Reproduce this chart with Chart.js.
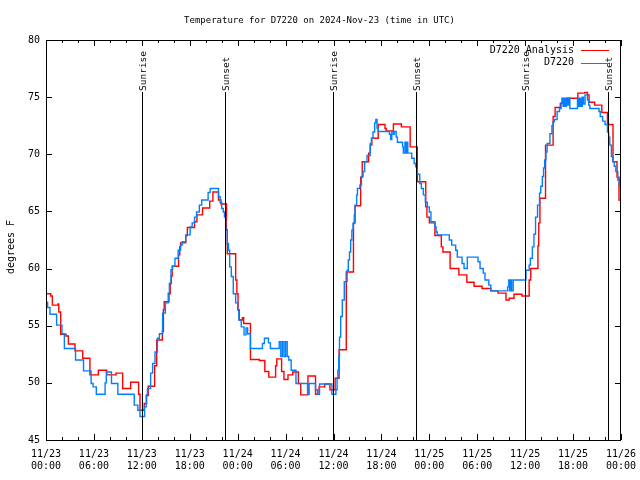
<!DOCTYPE html>
<html>
<head>
<meta charset="utf-8">
<script src="https://cdn.jsdelivr.net/npm/chart.js@4.4.1/dist/chart.umd.min.js"></script>
<style>
  html, body { margin: 0; padding: 0; background: #fff; }
  #wrap { width: 640px; height: 480px; }
</style>
</head>
<body>
<div id="wrap"><canvas id="tempChart" width="640" height="480"></canvas></div>
<script>
const MONO = "'DejaVu Sans Mono', 'Liberation Mono', monospace";

const chartTitle = "Temperature for D7220 on 2024-Nov-23 (time in UTC)";
const yTitle = "degrees F";
const seriesNames = ["D7220 Analysis", "D7220"];

// x = hours after 11/23 00:00 UTC
const xTickLabels = [
  ["11/23", "00:00"], ["11/23", "06:00"], ["11/23", "12:00"], ["11/23", "18:00"],
  ["11/24", "00:00"], ["11/24", "06:00"], ["11/24", "12:00"], ["11/24", "18:00"],
  ["11/25", "00:00"], ["11/25", "06:00"], ["11/25", "12:00"], ["11/25", "18:00"],
  ["11/26", "00:00"]
];

const sunEvents = ["Sunrise", "Sunset", "Sunrise", "Sunset", "Sunrise", "Sunset"];
const sunHours = [11.96, 22.43, 35.93, 46.38, 59.92, 70.39];

// analysis (red)
const analysisHours = [0, 0.6, 0.8, 1.5, 1.6, 1.84, 2.5, 2.8, 3.63, 4.6, 5.5, 6.55, 7.6, 8.77, 9.6, 10.6, 11.6, 11.77,
  12.3, 12.6, 12.8, 13.6, 13.86, 14.57, 14.7, 14.8, 15.4, 15.55, 15.7, 15.8, 16.6, 16.75, 16.85, 17.5, 17.7, 18.6, 18.9,
  19.6, 20.5, 20.9, 21.6, 21.9, 22.6, 22.7, 23.75, 23.9, 24.05, 24.2, 24.6, 24.75, 25.6, 26.7, 27.4, 27.9, 28.75, 28.9,
  29.5, 29.8, 30.3, 30.9, 31.6, 31.9, 32.8, 33.75, 34.2, 34.9, 35.55, 36.2, 36.7, 37.6, 38.5, 38.7, 39.4, 39.6, 40.4,
  40.6, 40.8, 41.6, 42.45, 42.6, 43.5, 44.5, 45.6, 46.5, 47.55, 47.7, 48.0, 48.7, 49.5, 49.7, 50.6, 51.7, 52.7, 53.6,
  54.6, 55.7, 56.6, 57.6, 58.0, 58.6, 59.6, 60.5, 60.7, 61.6, 61.7, 61.85, 62.55, 63.5, 63.75, 64.4, 65.2, 66.6, 67.45,
  67.8, 68.0, 68.7, 69.6, 70.3, 71.0, 71.5, 71.75, 72];
const analysisTemps = [57.8, 57.6, 56.8, 56.9, 56.2, 54.25, 54.1, 53.4, 52.8, 52.15, 50.7, 51.1, 50.7, 50.85, 49.5, 50.05, 49.0, 47.6,
  48.2, 48.9, 49.7, 51.5, 53.75, 54.5, 56.4, 57.1, 57.8, 58.7, 59.35, 60.2, 61.2, 61.9, 62.25, 62.9, 63.6, 64.1, 64.7,
  65.3, 65.9, 66.7, 66.0, 65.65, 63.4, 61.3, 59.0, 57.8, 56.4, 55.5, 55.7, 55.2, 52.05, 51.95, 51.0, 50.5, 51.5, 52.1,
  51.0, 50.3, 50.7, 50.95, 49.95, 48.95, 50.6, 49.0, 49.65, 49.9, 49.4, 50.4, 52.9, 59.7, 64.0, 65.5, 68.0, 69.35, 70.1,
  70.8, 71.4, 72.6, 72.25, 72.05, 72.65, 72.4, 70.65, 67.6, 65.4, 64.5, 64.0, 62.9, 61.9, 61.45, 60.0, 59.45, 58.8, 58.45,
  58.25, 58.05, 57.85, 57.25, 57.4, 57.75, 57.6, 59.0, 60.0, 62.0, 64.0, 66.15, 70.8, 73.3, 74.1, 74.45, 74.9, 75.35, 75.4,
  75.2, 74.55, 74.3, 73.65, 72.6, 69.35, 68.0, 66.0, 65.6];

// station observations (blue)
const stationHours = [0, 0.2, 0.5, 1.33, 2.0, 2.3, 3.7, 4.7, 5.65, 5.9, 6.3, 7.4, 7.55, 8.2, 9.0, 11.05, 11.5, 11.77,
  12.35, 12.55, 12.7, 13.1, 13.35, 13.65, 13.95, 14.2, 14.6, 14.95, 15.3, 15.45, 15.65, 15.85, 16.15, 16.55, 16.85, 17.05,
  17.5, 18.05, 18.3, 18.6, 18.85, 19.2, 19.5, 20.3, 20.55, 21.6, 21.8, 22.0, 22.2, 22.35, 22.5, 22.7, 22.85, 23.0, 23.2,
  23.45, 23.75, 24.0, 24.15, 24.45, 24.8, 25.05, 25.25, 25.6, 27.1, 27.35, 27.85, 28.1, 29.2, 29.4, 29.6, 29.8, 30.0,
  30.2, 30.4, 30.7, 31.3, 32.75, 32.95, 33.75, 34.0, 34.25, 35.8, 36.3, 36.45, 36.55, 36.65, 36.75, 36.9, 37.1, 37.35,
  37.7, 37.85, 38.0, 38.15, 38.3, 38.45, 38.6, 38.7, 38.9, 39.0, 39.3, 39.5, 39.7, 39.9, 40.2, 40.6, 40.75, 40.95, 41.15,
  41.3, 41.45, 41.6, 43.0, 43.15, 43.3, 43.5, 43.6, 43.85, 44.0, 44.65, 44.75, 44.95, 45.05, 45.15, 45.3, 45.8, 46.1,
  46.3, 46.45, 46.8, 47.0, 47.25, 47.5, 47.75, 48.0, 48.2, 48.7, 48.85, 49.0, 50.5, 50.8, 51.3, 51.5, 52.1, 52.35, 52.75,
  54.1, 54.35, 54.75, 54.97, 55.45, 55.7, 57.8, 57.95, 58.05, 58.2, 58.3, 58.5, 60.1, 60.5, 60.65, 60.9, 61.1, 61.3,
  61.55, 61.8, 61.95, 62.15, 62.3, 62.45, 62.6, 62.75, 63.1, 63.35, 63.5, 63.65, 64.0, 64.3, 64.5, 64.6, 64.75, 64.9,
  65.0, 65.15, 65.3, 65.45, 65.6, 66.55, 66.7, 66.85, 67.0, 67.15, 67.3, 67.5, 67.8, 67.95, 68.1, 69.25, 69.4, 69.7,
  70.0, 70.3, 70.45, 70.6, 70.8, 71.0, 71.15, 71.35, 71.6, 71.8, 72];
const stationTemps = [57.05, 56.6, 56.0, 55.05, 54.3, 53.0, 52.0, 51.05, 49.95, 49.65, 49.0, 50.0, 50.95, 49.95, 49.0, 48.05, 47.6, 47.05,
  47.9, 48.95, 49.5, 50.85, 51.7, 52.7, 53.9, 54.3, 56.1, 57.0, 57.85, 58.7, 59.9, 60.2, 60.9, 61.6, 62.05, 62.35,
  62.95, 63.65, 64.0, 64.5, 64.95, 65.55, 66.0, 66.65, 67.0, 66.3, 65.8, 65.25, 64.95, 64.5, 63.35, 62.2, 61.6, 60.15, 59.3,
  57.8, 57.0, 56.4, 55.5, 54.9, 54.2, 54.8, 54.3, 53.0, 53.45, 53.9, 53.5, 53.0, 53.6, 52.3, 53.6, 52.3, 53.6,
  52.3, 52.0, 51.1, 49.95, 49.0, 49.95, 49.4, 49.0, 49.9, 49.0, 49.4, 50.4, 51.1, 52.3, 54.0, 55.8, 57.25, 58.85,
  59.85, 60.75, 61.45, 62.5, 63.35, 63.95, 64.7, 65.55, 66.45, 67.0, 67.3, 68.05, 68.5, 69.35, 69.9, 70.95, 71.4, 71.95, 72.75,
  73.05, 72.3, 72.0, 71.75, 71.3, 72.0, 71.75, 72.0, 71.5, 71.05, 70.65, 70.1, 71.05, 70.1, 71.05, 70.1, 69.65, 69.2,
  68.9, 68.25, 67.45, 67.0, 66.45, 65.8, 65.4, 64.95, 64.1, 63.65, 63.2, 62.95, 62.5, 62.05, 61.6, 61.0, 60.45, 60.0, 61.0,
  60.6, 60.0, 59.6, 59.0, 58.55, 58.05, 58.4, 59.0, 58.05, 59.0, 58.05, 59.0, 59.85, 60.3, 60.9, 61.9, 63.0, 64.5,
  65.55, 66.6, 67.2, 68.05, 68.8, 69.5, 70.2, 70.95, 71.8, 72.5, 72.85, 73.05, 73.75, 74.0, 74.5, 74.9, 74.2, 74.9,
  74.2, 74.9, 74.3, 74.9, 74.0, 74.9, 74.2, 74.9, 74.2, 75.0, 74.4, 75.2, 74.75, 74.3, 74.0, 73.75, 73.3, 72.9,
  72.6, 71.95, 71.5, 70.8, 69.8, 69.35, 68.95, 68.5, 67.75, 67.2, 67.0];

function toPoints(xs, ys) {
  return xs.map((x, i) => ({ x: x, y: ys[i] }));
}

// frame, inward ticks on all four sides, sun lines, legend, y title
const gnuplotDecor = {
  id: "gnuplotDecor",
  afterDatasetsDraw(chart) {
    const ctx = chart.ctx;
    const a = chart.chartArea;
    const xs = chart.scales.x;
    ctx.save();
    ctx.strokeStyle = "#000";
    ctx.lineWidth = 1;
    // sunrise / sunset markers
    ctx.font = "9.5px " + MONO;
    ctx.fillStyle = "#000";
    sunHours.forEach((h, i) => {
      const px = Math.round(xs.getPixelForValue(h)) + 0.5;
      ctx.beginPath();
      ctx.moveTo(px, a.top + 52);
      ctx.lineTo(px, a.bottom);
      ctx.stroke();
      ctx.save();
      ctx.translate(px + 1, a.top + 51);
      ctx.rotate(-Math.PI / 2);
      ctx.textAlign = "left";
      ctx.textBaseline = "middle";
      ctx.fillText(sunEvents[i], 0, 0);
      ctx.restore();
    });
    ctx.restore();
  },
  afterDraw(chart) {
    const ctx = chart.ctx;
    const a = chart.chartArea;
    const xs = chart.scales.x;
    const ys = chart.scales.y;
    ctx.save();
    ctx.strokeStyle = "#000";
    ctx.lineWidth = 1;
    ctx.strokeRect(a.left + 0.5, a.top + 0.5, a.right - a.left - 1, a.bottom - a.top);
    ctx.beginPath();
    for (let h = 0; h <= 72; h += 2) {
      const px = Math.round(xs.getPixelForValue(h)) + 0.5;
      const len = h % 6 === 0 ? 6 : 3;
      ctx.moveTo(px, a.bottom);
      ctx.lineTo(px, a.bottom - len);
      ctx.moveTo(px, a.top);
      ctx.lineTo(px, a.top + len);
    }
    for (let v = 45; v <= 80; v += 5) {
      const py = Math.round(ys.getPixelForValue(v)) + 0.5;
      ctx.moveTo(a.left, py);
      ctx.lineTo(a.left + 6, py);
      ctx.moveTo(a.right, py);
      ctx.lineTo(a.right - 6, py);
    }
    ctx.stroke();

    // legend
    ctx.font = "10px " + MONO;
    ctx.fillStyle = "#000";
    ctx.textAlign = "right";
    ctx.textBaseline = "middle";
    const colors = ["#ff0000", "#0080ff"];
    seriesNames.forEach((name, i) => {
      const y = 50 + i * 12.5;
      ctx.fillText(name, 574, y);
      ctx.strokeStyle = colors[i];
      ctx.beginPath();
      ctx.moveTo(581, Math.round(y) + 0.5);
      ctx.lineTo(609, Math.round(y) + 0.5);
      ctx.stroke();
    });

    // y axis title
    ctx.save();
    ctx.translate(11, 247);
    ctx.rotate(-Math.PI / 2);
    ctx.textAlign = "center";
    ctx.textBaseline = "middle";
    ctx.fillStyle = "#000";
    ctx.fillText(yTitle, 0, 0);
    ctx.restore();
    ctx.restore();
  }
};

const ctx = document.getElementById("tempChart").getContext("2d");
new Chart(ctx, {
  type: "line",
  data: {
    datasets: [
      {
        label: seriesNames[0],
        data: toPoints(analysisHours, analysisTemps),
        borderColor: "#ff0000",
        borderWidth: 1.4,
        stepped: true,
        pointRadius: 0,
        fill: false,
        order: 2
      },
      {
        label: seriesNames[1],
        data: toPoints(stationHours, stationTemps),
        borderColor: "#0080ff",
        borderWidth: 1.4,
        stepped: true,
        pointRadius: 0,
        fill: false,
        order: 1
      }
    ]
  },
  options: {
    responsive: false,
    animation: false,
    devicePixelRatio: 1,
    layout: { padding: { left: 18, right: 19, top: 0, bottom: 0 }, autoPadding: false },
    plugins: {
      legend: { display: false },
      tooltip: { enabled: false },
      title: {
        display: true,
        text: chartTitle,
        color: "#000",
        font: { family: MONO, size: 9, weight: "normal", lineHeight: 1.2 },
        padding: { top: 15, bottom: 14.2 }
      }
    },
    scales: {
      x: {
        type: "linear",
        min: 0,
        max: 72,
        afterFit: s => {
          s.height = 40;
          s.paddingLeft = 0;
          s.paddingRight = 0;
        },
        afterBuildTicks: s => { s.ticks = xTickLabels.map((_, i) => ({ value: i * 6 })); },
        grid: { display: false, drawTicks: false },
        border: { display: false },
        ticks: {
          autoSkip: false,
          maxRotation: 0,
          padding: 8,
          color: "#000",
          font: { family: MONO, size: 10, lineHeight: 1.25 },
          callback: (v, i) => xTickLabels[i]
        }
      },
      y: {
        min: 45,
        max: 80,
        afterFit: s => {
          s.width = 28;
          s.paddingTop = 0;
          s.paddingBottom = 0;
        },
        grid: { display: false, drawTicks: false },
        border: { display: false },
        ticks: {
          stepSize: 5,
          padding: 6,
          color: "#000",
          font: { family: MONO, size: 10 }
        }
      }
    }
  },
  plugins: [gnuplotDecor]
});
</script>
</body>
</html>
